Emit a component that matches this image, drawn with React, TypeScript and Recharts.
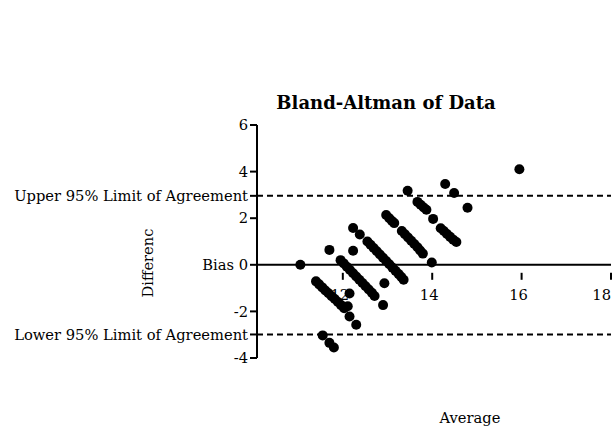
import React from 'react';
import {
  ScatterChart,
  Scatter,
  XAxis,
  YAxis,
  ReferenceLine,
} from 'recharts';

// Bland-Altman: average vs difference
const avgLoose = [11.05, 11.7, 12.23, 12.38, 12.23, 12.93, 12.9, 12.15, 12.11, 12.15, 12.3, 11.55, 11.7, 11.8, 13.45, 14.29, 14.49, 14.79, 15.95, 13.99, 14.02];
const diffLoose = [0.0, 0.64, 1.58, 1.3, 0.6, -0.79, -1.73, -1.23, -1.78, -2.22, -2.57, -3.03, -3.35, -3.55, 3.18, 3.47, 3.08, 2.45, 4.1, 0.1, 1.97];

const avgA = [11.4, 11.47, 11.54, 11.61, 11.68, 11.75, 11.82, 11.89, 11.96, 12.03];
const diffA = [-0.71, -0.84, -0.97, -1.1, -1.22, -1.35, -1.47, -1.6, -1.73, -1.86];

const avgB = [11.95, 12.02, 12.09, 12.16, 12.23, 12.3, 12.37, 12.44, 12.51, 12.58, 12.65, 12.71];
const diffB = [0.2, 0.06, -0.08, -0.22, -0.36, -0.5, -0.64, -0.78, -0.92, -1.06, -1.2, -1.34];

const avgC = [12.55, 12.62, 12.69, 12.76, 12.83, 12.9, 12.97, 13.04, 13.11, 13.18, 13.25, 13.31, 13.36];
const diffC = [1.0, 0.86, 0.72, 0.58, 0.44, 0.3, 0.16, 0.02, -0.12, -0.26, -0.4, -0.52, -0.64];

const avgD = [12.97, 13.04, 13.1, 13.15, 13.32, 13.39, 13.46, 13.53, 13.6, 13.67, 13.73, 13.79];
const diffD = [2.14, 2.0, 1.88, 1.79, 1.45, 1.31, 1.17, 1.03, 0.89, 0.75, 0.61, 0.48];

const avgE = [13.67, 13.74, 13.81, 13.87, 14.19, 14.26, 14.33, 14.4, 14.47, 14.54];
const diffE = [2.7, 2.58, 2.46, 2.36, 1.57, 1.45, 1.32, 1.2, 1.08, 0.98];

const bias = 0;
const upperLimit = 2.96;
const lowerLimit = -2.99;

const xTicks = [12, 14, 16, 18];
const yTicks = [-4, lowerLimit, -2, 0, 2, upperLimit, 4, 6];

const X_MIN = 10.08;
const X_MAX = 18;
const Y_MIN = -4;
const Y_MAX = 6;

const zip = (xs: number[], ys: number[]) => xs.map((avg, i) => ({ avg, diff: ys[i] }));

const FONT = '"DejaVu Serif", serif';
const FONT_SIZE = 14.7;
const PLOT_TOP = 125;
const PLOT_BOTTOM = 358;
// the x axis crosses at y = 0, so its ticks are lifted from the bottom edge
const AXIS_LIFT = ((PLOT_BOTTOM - PLOT_TOP) * (0 - Y_MIN)) / (Y_MAX - Y_MIN);

const Dot = (props: any) => <circle cx={props.cx} cy={props.cy} r={5} fill="#000" />;

const XTick = (props: any) => {
  const { x, y, payload } = props;
  const y0 = y - AXIS_LIFT;
  const last = payload.value === X_MAX;
  return (
    <g>
      <line x1={x} y1={y0} x2={x} y2={y0 + 7} stroke="#000" strokeWidth={2} />
      <text
        x={last ? x : x - 3}
        y={y0 + 27}
        textAnchor={last ? 'end' : 'middle'}
        fontFamily={FONT}
        fontSize={FONT_SIZE}
        fill="#000"
      >
        {payload.value}
      </text>
    </g>
  );
};

const yLabel = (v: number) => {
  if (v === upperLimit) return 'Upper 95% Limit of Agreement';
  if (v === lowerLimit) return 'Lower 95% Limit of Agreement';
  if (v === bias) return 'Bias 0';
  return String(v);
};

const App: React.FC = () => {
  return (
    <div style={{ position: 'absolute', left: 0, top: 0, width: 614, height: 426 }}>
      <ScatterChart
        width={614}
        height={426}
        margin={{ top: PLOT_TOP, right: 3, bottom: 38, left: 0 }}
      >
        <XAxis
          dataKey="avg"
          type="number"
          domain={[X_MIN, X_MAX]}
          ticks={xTicks}
          interval={0}
          axisLine={false}
          tickLine={false}
          tick={<XTick />}
          height={30}
          allowDataOverflow
        />
        <YAxis
          dataKey="diff"
          type="number"
          domain={[Y_MIN, Y_MAX]}
          ticks={yTicks}
          interval={0}
          width={257}
          tickFormatter={yLabel}
          axisLine={{ stroke: '#000', strokeWidth: 2 }}
          tickLine={{ stroke: '#000', strokeWidth: 2 }}
          tickSize={7}
          tickMargin={2}
          tick={{ fontFamily: FONT, fontSize: FONT_SIZE, fill: '#000' }}
          allowDataOverflow
        />
        <ReferenceLine y={upperLimit} stroke="#000" strokeWidth={2} strokeDasharray="6 4" />
        <ReferenceLine y={lowerLimit} stroke="#000" strokeWidth={2} strokeDasharray="6 4" />
        <ReferenceLine y={bias} stroke="#000" strokeWidth={2} />
        <Scatter data={zip(avgLoose, diffLoose)} shape={Dot} isAnimationActive={false} />
        <Scatter data={zip(avgA, diffA)} shape={Dot} isAnimationActive={false} />
        <Scatter data={zip(avgB, diffB)} shape={Dot} isAnimationActive={false} />
        <Scatter data={zip(avgC, diffC)} shape={Dot} isAnimationActive={false} />
        <Scatter data={zip(avgD, diffD)} shape={Dot} isAnimationActive={false} />
        <Scatter data={zip(avgE, diffE)} shape={Dot} isAnimationActive={false} />
      </ScatterChart>
      <svg
        width={614}
        height={426}
        style={{ position: 'absolute', left: 0, top: 0, pointerEvents: 'none' }}
      >
        <text x={386} y={109} textAnchor="middle" fontFamily={FONT} fontSize={18} fontWeight="bold" fill="#000">
          Bland-Altman of Data
        </text>
        <text
          x={153}
          y={263}
          textAnchor="middle"
          fontFamily={FONT}
          fontSize={FONT_SIZE}
          fill="#000"
          transform="rotate(-90 153 263)"
        >
          Differenc
        </text>
        <text x={470} y={423} textAnchor="middle" fontFamily={FONT} fontSize={FONT_SIZE} fill="#000">
          Average
        </text>
      </svg>
    </div>
  );
};

export default App;
